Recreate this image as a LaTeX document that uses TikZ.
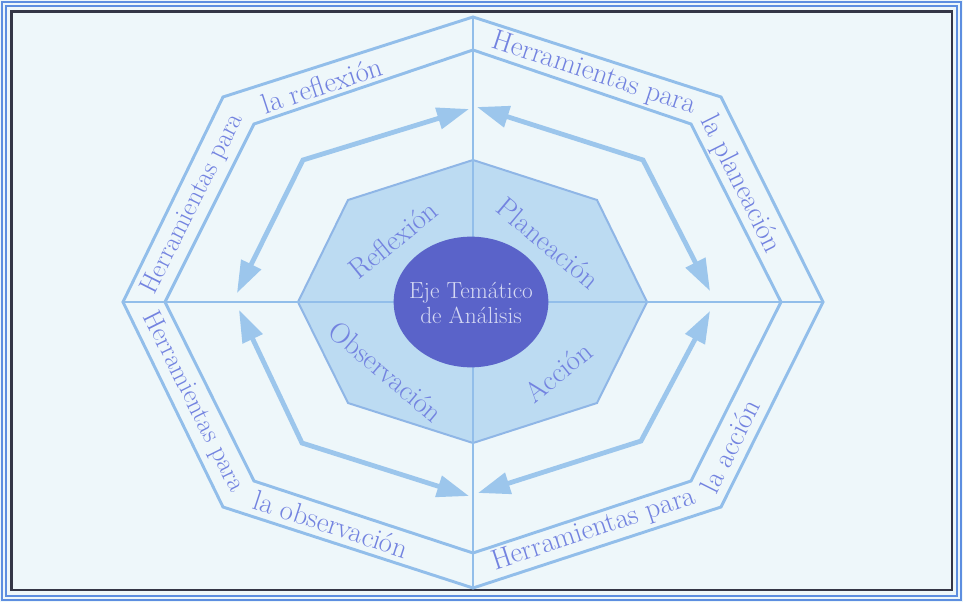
\documentclass[tikz,border=0pt]{standalone}
\usetikzlibrary{arrows.meta,calc,shapes.geometric}
\definecolor{bgc}{HTML}{EEF7FA}
\definecolor{bandc}{HTML}{92BEEA}
\definecolor{arrc}{HTML}{9CC6EC}
\definecolor{innfill}{HTML}{BCDBF2}
\definecolor{innline}{HTML}{8FB6E6}
\definecolor{ellc}{HTML}{5A63C9}
\definecolor{txtc}{HTML}{7383E0}
\definecolor{ctxt}{HTML}{D5D9F3}
\definecolor{framed}{HTML}{343646}
\definecolor{frameb}{HTML}{5D8EE0}
\tikzset{
  bandline/.style={draw=bandc, line width=2.2pt, line join=miter},
  crossline/.style={draw=bandc, line width=1.8pt},
  cycarrow/.style={draw=arrc, line width=3.6pt, line join=miter,
     {Triangle[width=16pt,length=24pt]}-{Triangle[width=16pt,length=24pt]}},
  bandtext/.style={text=txtc, font=\fontsize{21.5}{24}\selectfont, inner sep=0pt},
  sidetext/.style={text=txtc, font=\fontsize{20}{22}\selectfont, inner sep=0pt},
  phasetext/.style={text=txtc, font=\fontsize{21.5}{24}\selectfont, inner sep=0pt},
}
\begin{document}
\begin{tikzpicture}[x=0.75pt,y=-0.75pt]
\useasboundingbox (0,0) rectangle (963,602);
\fill[bgc] (0,0) rectangle (963,602);
% frame
\draw[frameb, line width=1.2pt] (2,2) rectangle (961,600);
\draw[frameb, line width=1.2pt] (6,6) rectangle (957,596);
\draw[framed, line width=2pt] (11.5,11.5) rectangle (952,590);
% centre
\coordinate (c) at (473,302);
% outer band octagon
\draw[bandline] ($(c)+(0,-285)$) -- ($(c)+(248,-205)$) -- ($(c)+(350,0)$) -- ($(c)+(248,205)$)
  -- ($(c)+(0,286)$) -- ($(c)+(-250,205)$) -- ($(c)+(-350,0)$) -- ($(c)+(-250,-205)$) -- cycle;
% inner band octagon
\draw[bandline] ($(c)+(0,-252)$) -- ($(c)+(218,-178)$) -- ($(c)+(308,0)$) -- ($(c)+(218,179)$)
  -- ($(c)+(0,251)$) -- ($(c)+(-219,179)$) -- ($(c)+(-308,0)$) -- ($(c)+(-219,-178)$) -- cycle;
% inner phase octagon
\draw[fill=innfill, draw=innline, line width=1.5pt, line join=miter]
  ($(c)+(0,-142)$) -- ($(c)+(124,-102)$) -- ($(c)+(174,0)$) -- ($(c)+(124,101)$)
  -- ($(c)+(0,141)$) -- ($(c)+(-125,101)$) -- ($(c)+(-175,0)$) -- ($(c)+(-125,-102)$) -- cycle;
% cross lines
\coordinate (vt) at ($(c)+(0,-285)$);
\coordinate (vb) at ($(c)+(0,286)$);
\coordinate (hl) at ($(c)+(-350,0)$);
\coordinate (hr) at ($(c)+(350,0)$);
\draw[crossline] (vt) -- (vb);
\draw[crossline] (hl) -- (hr);
% cycle arrows
\coordinate (a1s) at ($(c)+(-236,-9)$);
\coordinate (a1c) at ($(c)+(-170,-142)$);
\coordinate (a1e) at ($(c)+(-4,-193)$);
\coordinate (a2s) at ($(c)+(4,-195)$);
\coordinate (a2c) at ($(c)+(170,-142)$);
\coordinate (a2e) at ($(c)+(237,-11)$);
\coordinate (a3s) at ($(c)+(237,9)$);
\coordinate (a3c) at ($(c)+(168,139)$);
\coordinate (a3e) at ($(c)+(5,191)$);
\coordinate (a4s) at ($(c)+(-4,194)$);
\coordinate (a4c) at ($(c)+(-171,141)$);
\coordinate (a4e) at ($(c)+(-234,8)$);
\draw[cycarrow] (a1s) -- (a1c) -- (a1e);
\draw[cycarrow] (a2s) -- (a2c) -- (a2e);
\draw[cycarrow] (a3s) -- (a3c) -- (a3e);
\draw[cycarrow] (a4s) -- (a4c) -- (a4e);
% centre ellipse
\node[ellipse, fill=ellc, minimum width=116pt, minimum height=98pt, inner sep=0pt] (eje) at (471,302) {};
\node[text=ctxt, align=center, font=\fontsize{17.5}{19}\selectfont] (ejet) at (471,303)
  {Eje Tem\'atico\\de An\'alisis};
% phase labels
\node[phasetext, rotate=39] (refl) at (393,240) {Reflexi\'on};
\node[phasetext, rotate=-40] (plan) at (548,243) {Planeaci\'on};
\node[phasetext, rotate=-40] (obs) at (386,372) {Observaci\'on};
\node[phasetext, rotate=39] (acc) at (558,372) {Acci\'on};
% band labels
\node[sidetext, rotate=63.4] (t1a) at (193,204) {Herramientas para};
\node[bandtext, rotate=18.3] (t1b) at (322,85) {la reflexi\'on};
\node[bandtext, rotate=-18.3] (t2a) at (594,74) {Herramientas para};
\node[bandtext, rotate=-63.4] (t2b) at (740,184) {la planeaci\'on};
\node[sidetext, rotate=-63.4] (t3a) at (193,402) {Herramientas para};
\node[bandtext, rotate=-18.3] (t3b) at (331,524) {la observaci\'on};
\node[bandtext, rotate=18.3] (t4a) at (594,530) {Herramientas para};
\node[bandtext, rotate=63.4] (t4b) at (730,446) {la acci\'on};
\end{tikzpicture}
\end{document}
